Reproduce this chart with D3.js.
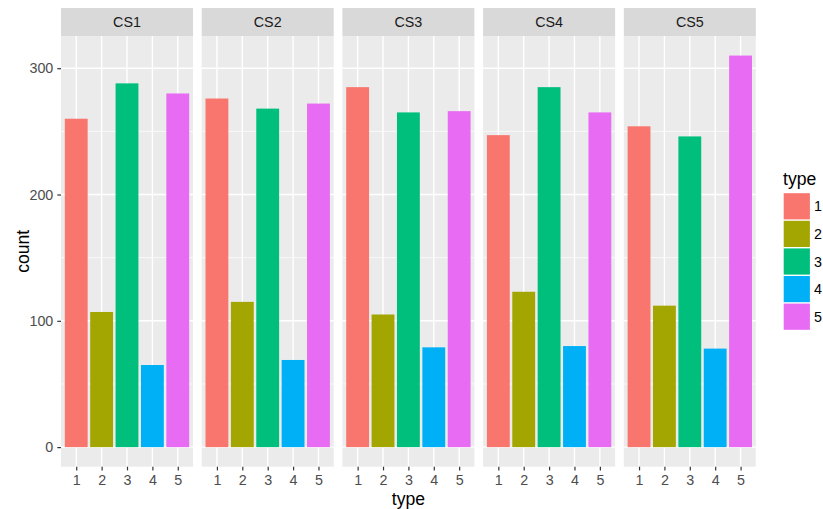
<!DOCTYPE html>
<html>
<head>
<meta charset="utf-8">
<script src="https://cdn.jsdelivr.net/npm/d3@7"></script>
<style>
  html, body { margin: 0; padding: 0; background: #ffffff; }
  svg { display: block; font-family: "Liberation Sans", Arial, sans-serif; }
</style>
</head>
<body>
<svg id="chart" width="823" height="509"></svg>
<script>
// Facet panels, bar categories and counts
const panels = ["CS1", "CS2", "CS3", "CS4", "CS5"];
const types = ["1", "2", "3", "4", "5"];
const countsCS1 = [260, 107, 288, 65, 280];
const countsCS2 = [276, 115, 268, 69, 272];
const countsCS3 = [285, 105, 265, 79, 266];
const countsCS4 = [247, 123, 285, 80, 265];
const countsCS5 = [254, 112, 246, 78, 310];
const countsByPanel = [countsCS1, countsCS2, countsCS3, countsCS4, countsCS5];
const yTicks = [0, 100, 200, 300];
const yMinor = [50, 150, 250];
const palette = ["#F8766D", "#A3A500", "#00BF7D", "#00B0F6", "#E76BF3"];

const svg = d3.select("#chart");
const FONT = "Liberation Sans, Arial, sans-serif";
const smallSize = 14.3, titleSize = 17.6;

// layout
const panelLeft = 61, panelW = 132, panelGap = 8.7;
const stripTop = 8, stripH = 28;
const panelTop = stripTop + stripH, panelBottom = 466.7;

const maxVal = d3.max(countsByPanel.flat());
const pad = maxVal * 0.05;
const y = d3.scaleLinear().domain([-pad, maxVal + pad]).range([panelBottom, panelTop]);

const color = d3.scaleOrdinal().domain(types).range(palette);

panels.forEach((name, i) => {
  const x0 = panelLeft + i * (panelW + panelGap);
  // discrete axis with 0.6 units of padding on each side
  const xc = d3.scalePoint().domain(types).range([x0, x0 + panelW]).padding(0.6);
  const step = xc.step();
  const barW = step * 0.9;

  const g = svg.append("g");
  // strip
  g.append("rect").attr("x", x0).attr("y", stripTop).attr("width", panelW).attr("height", stripH)
    .attr("fill", "#D9D9D9");
  g.append("text").attr("x", x0 + panelW / 2).attr("y", stripTop + stripH / 2)
    .attr("dy", "0.36em").attr("text-anchor", "middle").attr("font-size", smallSize)
    .attr("fill", "#1A1A1A").text(name);

  // panel background
  g.append("rect").attr("x", x0).attr("y", panelTop).attr("width", panelW)
    .attr("height", panelBottom - panelTop).attr("fill", "#EBEBEB");

  // grid lines
  g.selectAll(".minor").data(yMinor).enter().append("line")
    .attr("x1", x0).attr("x2", x0 + panelW)
    .attr("y1", d => y(d)).attr("y2", d => y(d))
    .attr("stroke", "#ffffff").attr("stroke-width", 0.7);
  g.selectAll(".major").data(yTicks).enter().append("line")
    .attr("x1", x0).attr("x2", x0 + panelW)
    .attr("y1", d => y(d)).attr("y2", d => y(d))
    .attr("stroke", "#ffffff").attr("stroke-width", 1.4);
  g.selectAll(".vgrid").data(types).enter().append("line")
    .attr("x1", d => xc(d)).attr("x2", d => xc(d))
    .attr("y1", panelTop).attr("y2", panelBottom)
    .attr("stroke", "#ffffff").attr("stroke-width", 1.4);

  // bars
  const vals = countsByPanel[i];
  g.selectAll(".bar").data(types).enter().append("rect")
    .attr("x", d => xc(d) - barW / 2)
    .attr("width", barW)
    .attr("y", (d, j) => y(vals[j]))
    .attr("height", (d, j) => y(0) - y(vals[j]))
    .attr("fill", d => color(d));

  // x axis
  const xa = svg.append("g").attr("transform", `translate(0,${panelBottom})`)
    .call(d3.axisBottom(xc).tickSize(3.7).tickPadding(4.6));
  xa.select(".domain").remove();
  xa.selectAll("line").attr("stroke", "#333333").attr("stroke-width", 1.2);
  xa.selectAll("text").attr("fill", "#4D4D4D").attr("font-size", smallSize)
    .attr("font-family", FONT);
});

// y axis
const ya = svg.append("g").attr("transform", `translate(${panelLeft},0)`)
  .call(d3.axisLeft(y).tickValues(yTicks).tickSize(3.7).tickPadding(4));
ya.select(".domain").remove();
ya.selectAll("line").attr("stroke", "#333333").attr("stroke-width", 1.2);
ya.selectAll("text").attr("fill", "#4D4D4D").attr("font-size", smallSize)
  .attr("font-family", FONT);

// axis titles
const panelsRight = panelLeft + 5 * panelW + 4 * panelGap;
svg.append("text").attr("x", (panelLeft + panelsRight) / 2).attr("y", 505)
  .attr("text-anchor", "middle").attr("font-size", titleSize).attr("fill", "#000").text("type");
svg.append("text").attr("transform", `translate(28.5,${(panelTop + panelBottom) / 2}) rotate(-90)`)
  .attr("text-anchor", "middle").attr("font-size", titleSize).attr("fill", "#000").text("count");

// legend
const lg = svg.append("g").attr("transform", "translate(783,0)");
lg.append("text").attr("x", 0).attr("y", 185).attr("font-size", titleSize).attr("fill", "#000").text("type");
const keySize = 27.6, keyTop = 192.5;
types.forEach((t, j) => {
  lg.append("rect").attr("x", 0.7).attr("y", keyTop + j * keySize + 0.7)
    .attr("width", keySize - 1.4).attr("height", keySize - 1.4).attr("fill", color(t));
  lg.append("text").attr("x", keySize + 3.5).attr("y", keyTop + j * keySize + keySize / 2)
    .attr("dy", "0.36em").attr("font-size", smallSize).attr("fill", "#000").text(t);
});
</script>
</body>
</html>
